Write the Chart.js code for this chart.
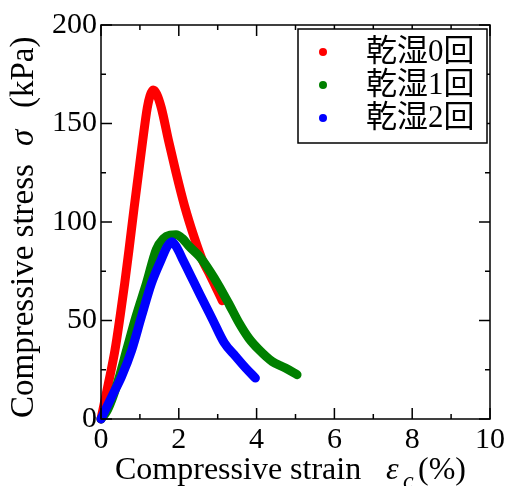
<!DOCTYPE html>
<html lang="ja">
<head>
  <meta charset="UTF-8">
  <title>Compressive stress - strain</title>
  <script src="https://cdn.jsdelivr.net/npm/chart.js"></script>
  <style>
    html, body { margin: 0; padding: 0; background: #fff; }
    #wrap { width: 508px; height: 486px; }
  </style>
</head>
<body>
<div id="wrap"><canvas id="chart" width="508" height="486"></canvas></div>
<script>
  // series: strain (%) and stress (kPa)
  const seriesNames = ['乾湿0回', '乾湿1回', '乾湿2回'];
  const seriesColors = ['#ff0000', '#008000', '#0000ff'];

  const strain0 = [0, 0.19, 0.36, 0.49, 0.61, 0.72, 0.85, 0.96, 1.07, 1.19, 1.26, 1.34, 1.43, 1.55, 1.74, 1.93, 2.15, 2.4, 2.6, 2.78, 2.95, 3.12];
  const stress0 = [0, 18, 35, 52, 69, 86, 107, 124, 141, 158, 164, 167, 165, 158, 141, 125, 108, 92, 81, 74, 67, 60];

  const strain1 = [0, 0.15, 0.3, 0.48, 0.66, 0.9, 1.17, 1.42, 1.6, 1.77, 1.93, 2.1, 2.27, 2.53, 2.8, 3.04, 3.3, 3.55, 3.8, 4.06, 4.4, 4.74, 5.04];
  const stress1 = [0, 4, 11, 22, 35, 52, 69, 86, 91.5, 93.3, 93.5, 91.5, 87.6, 82.5, 75, 67.3, 58, 48.7, 41, 35.2, 29.2, 25.9, 22.5];

  const strain2 = [0, 0.28, 0.53, 0.79, 1.04, 1.3, 1.55, 1.7, 1.82, 1.95, 2.1, 2.3, 2.55, 2.87, 3.17, 3.46, 3.72, 3.97];
  const stress2 = [0, 11.5, 21.6, 35, 52, 69, 81, 87.5, 90, 87, 81, 73, 63, 50.4, 38.6, 31.8, 25.9, 20.8];

  const xTicks = [0, 2, 4, 6, 8, 10];
  const yTicks = [0, 50, 100, 150, 200];
  const xMinorStep = 1;
  const yMinorStep = 25;

  const serif = '"Liberation Serif", "Times New Roman", serif';
  const legendFont = '31px "Liberation Serif", "Noto Sans CJK JP", serif';

  const toPoints = (xs, ys) => xs.map((v, i) => ({ x: v, y: ys[i] }));
  const allSeries = [toPoints(strain0, stress0), toPoints(strain1, stress1), toPoints(strain2, stress2)];

  // each piece: text, font, start offset along the line, vertical shift
  function drawPieces(ctx, pieces, x, y) {
    pieces.forEach(p => {
      ctx.font = p.font;
      ctx.fillText(p.text, x + p.at, y + (p.dy || 0));
    });
  }

  const decor = {
    id: 'decor',
    afterDatasetsDraw(chart) {
      const { ctx, chartArea: a, scales: { x, y } } = chart;
      ctx.save();
      ctx.strokeStyle = '#000';
      ctx.lineWidth = 1.5;
      ctx.strokeRect(a.left, a.top, a.right - a.left, a.bottom - a.top);

      // inward ticks on all four sides
      ctx.beginPath();
      for (let v = x.min; v <= x.max; v += xMinorStep) {
        const px = x.getPixelForValue(v);
        const len = xTicks.includes(v) ? 11 : 5;
        ctx.moveTo(px, a.bottom); ctx.lineTo(px, a.bottom - len);
        ctx.moveTo(px, a.top); ctx.lineTo(px, a.top + len);
      }
      for (let v = y.min; v <= y.max; v += yMinorStep) {
        const py = y.getPixelForValue(v);
        const len = yTicks.includes(v) ? 11 : 5;
        ctx.moveTo(a.left, py); ctx.lineTo(a.left + len, py);
        ctx.moveTo(a.right, py); ctx.lineTo(a.right - len, py);
      }
      ctx.stroke();

      // legend box
      const lx = a.right - 192, ly = a.top + 4, lw = 189, lh = 114;
      ctx.fillStyle = '#fff';
      ctx.fillRect(lx, ly, lw, lh);
      ctx.lineWidth = 1.5;
      ctx.strokeRect(lx, ly, lw, lh);
      ctx.textBaseline = 'middle';
      ctx.textAlign = 'left';
      seriesNames.forEach((name, i) => {
        const cy = ly + 23 + i * 33;
        ctx.fillStyle = seriesColors[i];
        ctx.beginPath();
        ctx.arc(lx + 25, cy, 4, 0, Math.PI * 2);
        ctx.fill();
        ctx.fillStyle = '#000';
        ctx.font = legendFont;
        ctx.fillText(name, lx + 68, cy + 1);
      });

      // axis titles
      ctx.fillStyle = '#000';
      ctx.textBaseline = 'alphabetic';
      drawPieces(ctx, [
        { text: 'Compressive strain', font: '32px ' + serif, at: 0 },
        { text: 'ε', font: 'italic 32px ' + serif, at: 271 },
        { text: 'c', font: 'italic 24px ' + serif, at: 288, dy: 9 },
        { text: '(%)', font: '32px ' + serif, at: 303 }
      ], 115, 479);

      ctx.translate(33, 418);
      ctx.rotate(-Math.PI / 2);
      drawPieces(ctx, [
        { text: 'Compressive stress', font: '33px ' + serif, at: 0 },
        { text: 'σ', font: 'italic 33px ' + serif, at: 272 },
        { text: '(kPa)', font: '33px ' + serif, at: 310 }
      ], 0, 0);
      ctx.restore();
    }
  };

  new Chart(document.getElementById('chart'), {
    type: 'line',
    data: {
      datasets: allSeries.map((pts, i) => ({
        label: seriesNames[i],
        data: pts,
        borderColor: seriesColors[i],
        backgroundColor: seriesColors[i],
        borderWidth: 9,
        borderCapStyle: 'round',
        borderJoinStyle: 'round',
        pointRadius: 0,
        cubicInterpolationMode: 'monotone',
        fill: false,
        clip: false,
        order: allSeries.length - i
      }))
    },
    options: {
      responsive: false,
      animation: false,
      devicePixelRatio: 1,
      layout: { padding: { top: 25, right: 16, left: 0, bottom: 0 } },
      plugins: {
        legend: { display: false },
        tooltip: { enabled: false }
      },
      scales: {
        x: {
          type: 'linear',
          min: 0,
          max: 10,
          grid: { display: false, drawTicks: false },
          border: { display: false },
          afterFit: s => { s.height = 67; },
          afterBuildTicks: s => { s.ticks = xTicks.map(v => ({ value: v })); },
          ticks: { color: '#000', padding: 3, maxRotation: 0, font: { family: serif, size: 30 } }
        },
        y: {
          type: 'linear',
          min: 0,
          max: 200,
          grid: { display: false, drawTicks: false },
          border: { display: false },
          afterFit: s => { s.width = 101; },
          afterBuildTicks: s => { s.ticks = yTicks.map(v => ({ value: v })); },
          ticks: { color: '#000', padding: 4, font: { family: serif, size: 30 } }
        }
      }
    },
    plugins: [decor]
  });
</script>
</body>
</html>
